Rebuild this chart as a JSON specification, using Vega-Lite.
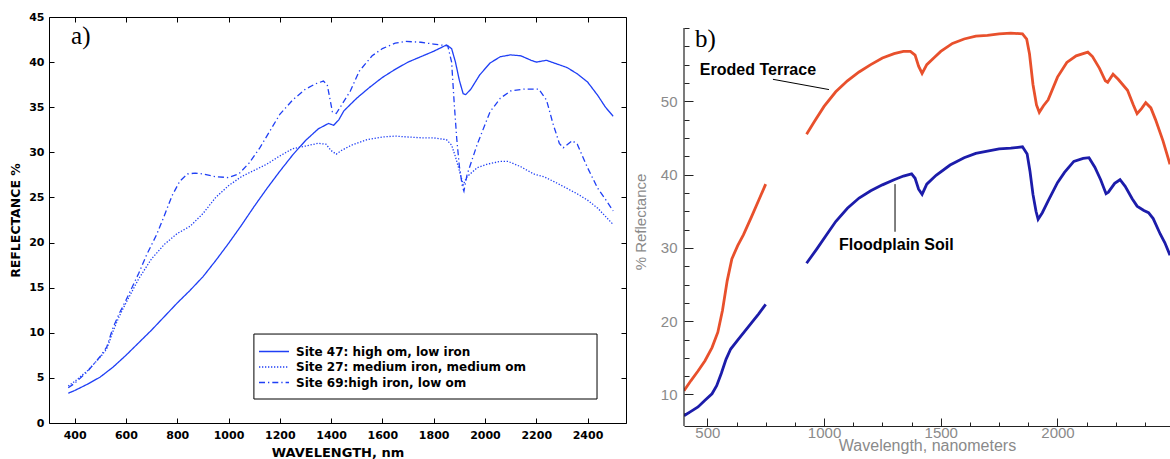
{
  "$schema": "https://vega.github.io/schema/vega-lite/v6.json",
  "autosize": {"type": "pad"},
  "padding": {"left": 9, "top": 11, "right": 0, "bottom": 0},
  "spacing": 58,
  "bounds": "flush",
  "background": "white",
  "config": {"view": {"stroke": null}, "axis": {"grid": false}},
  "datasets": {
    "a": [
      {"site":"Site 47: high om, low iron","nm":375,"r":3.3},{"site":"Site 47: high om, low iron","nm":400,"r":3.6},{"site":"Site 47: high om, low iron","nm":450,"r":4.3},{"site":"Site 47: high om, low iron","nm":500,"r":5.1},{"site":"Site 47: high om, low iron","nm":550,"r":6.2},{"site":"Site 47: high om, low iron","nm":600,"r":7.5},{"site":"Site 47: high om, low iron","nm":650,"r":8.9},{"site":"Site 47: high om, low iron","nm":700,"r":10.3},{"site":"Site 47: high om, low iron","nm":750,"r":11.8},{"site":"Site 47: high om, low iron","nm":800,"r":13.3},{"site":"Site 47: high om, low iron","nm":850,"r":14.7},{"site":"Site 47: high om, low iron","nm":900,"r":16.2},{"site":"Site 47: high om, low iron","nm":950,"r":18.0},{"site":"Site 47: high om, low iron","nm":1000,"r":19.9},{"site":"Site 47: high om, low iron","nm":1050,"r":21.9},{"site":"Site 47: high om, low iron","nm":1100,"r":24.0},{"site":"Site 47: high om, low iron","nm":1150,"r":26.0},{"site":"Site 47: high om, low iron","nm":1200,"r":27.9},{"site":"Site 47: high om, low iron","nm":1250,"r":29.7},{"site":"Site 47: high om, low iron","nm":1300,"r":31.3},{"site":"Site 47: high om, low iron","nm":1350,"r":32.6},{"site":"Site 47: high om, low iron","nm":1390,"r":33.2},{"site":"Site 47: high om, low iron","nm":1410,"r":33.0},{"site":"Site 47: high om, low iron","nm":1430,"r":33.6},{"site":"Site 47: high om, low iron","nm":1450,"r":34.6},{"site":"Site 47: high om, low iron","nm":1500,"r":36.0},{"site":"Site 47: high om, low iron","nm":1550,"r":37.2},{"site":"Site 47: high om, low iron","nm":1600,"r":38.3},{"site":"Site 47: high om, low iron","nm":1650,"r":39.2},{"site":"Site 47: high om, low iron","nm":1700,"r":40.0},{"site":"Site 47: high om, low iron","nm":1750,"r":40.6},{"site":"Site 47: high om, low iron","nm":1800,"r":41.2},{"site":"Site 47: high om, low iron","nm":1850,"r":41.9},{"site":"Site 47: high om, low iron","nm":1870,"r":41.5},{"site":"Site 47: high om, low iron","nm":1885,"r":40.0},{"site":"Site 47: high om, low iron","nm":1900,"r":38.0},{"site":"Site 47: high om, low iron","nm":1915,"r":36.5},{"site":"Site 47: high om, low iron","nm":1925,"r":36.4},{"site":"Site 47: high om, low iron","nm":1945,"r":37.0},{"site":"Site 47: high om, low iron","nm":1980,"r":38.6},{"site":"Site 47: high om, low iron","nm":2020,"r":39.9},{"site":"Site 47: high om, low iron","nm":2060,"r":40.6},{"site":"Site 47: high om, low iron","nm":2100,"r":40.8},{"site":"Site 47: high om, low iron","nm":2140,"r":40.7},{"site":"Site 47: high om, low iron","nm":2180,"r":40.2},{"site":"Site 47: high om, low iron","nm":2200,"r":40.0},{"site":"Site 47: high om, low iron","nm":2240,"r":40.2},{"site":"Site 47: high om, low iron","nm":2280,"r":39.8},{"site":"Site 47: high om, low iron","nm":2320,"r":39.4},{"site":"Site 47: high om, low iron","nm":2360,"r":38.7},{"site":"Site 47: high om, low iron","nm":2400,"r":37.8},{"site":"Site 47: high om, low iron","nm":2440,"r":36.3},{"site":"Site 47: high om, low iron","nm":2470,"r":35.0},{"site":"Site 47: high om, low iron","nm":2500,"r":34.0},
      {"site":"Site 27: medium iron, medium om","nm":375,"r":4.1},{"site":"Site 27: medium iron, medium om","nm":400,"r":4.6},{"site":"Site 27: medium iron, medium om","nm":450,"r":5.8},{"site":"Site 27: medium iron, medium om","nm":500,"r":7.3},{"site":"Site 27: medium iron, medium om","nm":525,"r":8.2},{"site":"Site 27: medium iron, medium om","nm":550,"r":10.2},{"site":"Site 27: medium iron, medium om","nm":575,"r":11.9},{"site":"Site 27: medium iron, medium om","nm":600,"r":13.3},{"site":"Site 27: medium iron, medium om","nm":650,"r":16.0},{"site":"Site 27: medium iron, medium om","nm":700,"r":18.2},{"site":"Site 27: medium iron, medium om","nm":750,"r":19.8},{"site":"Site 27: medium iron, medium om","nm":800,"r":21.0},{"site":"Site 27: medium iron, medium om","nm":850,"r":21.8},{"site":"Site 27: medium iron, medium om","nm":900,"r":23.2},{"site":"Site 27: medium iron, medium om","nm":950,"r":25.0},{"site":"Site 27: medium iron, medium om","nm":1000,"r":26.3},{"site":"Site 27: medium iron, medium om","nm":1050,"r":27.3},{"site":"Site 27: medium iron, medium om","nm":1100,"r":28.0},{"site":"Site 27: medium iron, medium om","nm":1150,"r":28.7},{"site":"Site 27: medium iron, medium om","nm":1200,"r":29.6},{"site":"Site 27: medium iron, medium om","nm":1250,"r":30.4},{"site":"Site 27: medium iron, medium om","nm":1300,"r":30.7},{"site":"Site 27: medium iron, medium om","nm":1350,"r":31.0},{"site":"Site 27: medium iron, medium om","nm":1380,"r":30.9},{"site":"Site 27: medium iron, medium om","nm":1400,"r":30.2},{"site":"Site 27: medium iron, medium om","nm":1420,"r":29.8},{"site":"Site 27: medium iron, medium om","nm":1440,"r":30.2},{"site":"Site 27: medium iron, medium om","nm":1480,"r":30.8},{"site":"Site 27: medium iron, medium om","nm":1540,"r":31.4},{"site":"Site 27: medium iron, medium om","nm":1600,"r":31.7},{"site":"Site 27: medium iron, medium om","nm":1650,"r":31.8},{"site":"Site 27: medium iron, medium om","nm":1700,"r":31.7},{"site":"Site 27: medium iron, medium om","nm":1760,"r":31.6},{"site":"Site 27: medium iron, medium om","nm":1800,"r":31.6},{"site":"Site 27: medium iron, medium om","nm":1850,"r":31.4},{"site":"Site 27: medium iron, medium om","nm":1870,"r":30.8},{"site":"Site 27: medium iron, medium om","nm":1885,"r":29.5},{"site":"Site 27: medium iron, medium om","nm":1900,"r":28.0},{"site":"Site 27: medium iron, medium om","nm":1915,"r":26.4},{"site":"Site 27: medium iron, medium om","nm":1930,"r":27.3},{"site":"Site 27: medium iron, medium om","nm":1970,"r":28.3},{"site":"Site 27: medium iron, medium om","nm":2010,"r":28.7},{"site":"Site 27: medium iron, medium om","nm":2060,"r":29.0},{"site":"Site 27: medium iron, medium om","nm":2090,"r":29.0},{"site":"Site 27: medium iron, medium om","nm":2140,"r":28.4},{"site":"Site 27: medium iron, medium om","nm":2190,"r":27.6},{"site":"Site 27: medium iron, medium om","nm":2230,"r":27.3},{"site":"Site 27: medium iron, medium om","nm":2280,"r":26.6},{"site":"Site 27: medium iron, medium om","nm":2320,"r":26.0},{"site":"Site 27: medium iron, medium om","nm":2360,"r":25.4},{"site":"Site 27: medium iron, medium om","nm":2400,"r":24.7},{"site":"Site 27: medium iron, medium om","nm":2440,"r":23.8},{"site":"Site 27: medium iron, medium om","nm":2480,"r":22.6},{"site":"Site 27: medium iron, medium om","nm":2500,"r":22.0},
      {"site":"Site 69:high iron, low om","nm":375,"r":3.9},{"site":"Site 69:high iron, low om","nm":400,"r":4.4},{"site":"Site 69:high iron, low om","nm":450,"r":5.7},{"site":"Site 69:high iron, low om","nm":500,"r":7.4},{"site":"Site 69:high iron, low om","nm":525,"r":8.4},{"site":"Site 69:high iron, low om","nm":550,"r":10.6},{"site":"Site 69:high iron, low om","nm":575,"r":12.2},{"site":"Site 69:high iron, low om","nm":600,"r":13.6},{"site":"Site 69:high iron, low om","nm":650,"r":16.6},{"site":"Site 69:high iron, low om","nm":680,"r":18.6},{"site":"Site 69:high iron, low om","nm":720,"r":20.9},{"site":"Site 69:high iron, low om","nm":750,"r":23.0},{"site":"Site 69:high iron, low om","nm":780,"r":25.2},{"site":"Site 69:high iron, low om","nm":810,"r":26.8},{"site":"Site 69:high iron, low om","nm":840,"r":27.6},{"site":"Site 69:high iron, low om","nm":870,"r":27.7},{"site":"Site 69:high iron, low om","nm":900,"r":27.6},{"site":"Site 69:high iron, low om","nm":950,"r":27.3},{"site":"Site 69:high iron, low om","nm":1000,"r":27.2},{"site":"Site 69:high iron, low om","nm":1040,"r":27.6},{"site":"Site 69:high iron, low om","nm":1080,"r":28.8},{"site":"Site 69:high iron, low om","nm":1120,"r":30.4},{"site":"Site 69:high iron, low om","nm":1160,"r":32.3},{"site":"Site 69:high iron, low om","nm":1200,"r":34.2},{"site":"Site 69:high iron, low om","nm":1250,"r":35.8},{"site":"Site 69:high iron, low om","nm":1300,"r":37.0},{"site":"Site 69:high iron, low om","nm":1340,"r":37.6},{"site":"Site 69:high iron, low om","nm":1370,"r":37.9},{"site":"Site 69:high iron, low om","nm":1385,"r":37.5},{"site":"Site 69:high iron, low om","nm":1395,"r":36.0},{"site":"Site 69:high iron, low om","nm":1405,"r":34.5},{"site":"Site 69:high iron, low om","nm":1420,"r":34.3},{"site":"Site 69:high iron, low om","nm":1440,"r":35.2},{"site":"Site 69:high iron, low om","nm":1475,"r":36.8},{"site":"Site 69:high iron, low om","nm":1510,"r":39.0},{"site":"Site 69:high iron, low om","nm":1560,"r":40.7},{"site":"Site 69:high iron, low om","nm":1600,"r":41.5},{"site":"Site 69:high iron, low om","nm":1650,"r":42.1},{"site":"Site 69:high iron, low om","nm":1690,"r":42.3},{"site":"Site 69:high iron, low om","nm":1750,"r":42.2},{"site":"Site 69:high iron, low om","nm":1800,"r":42.0},{"site":"Site 69:high iron, low om","nm":1855,"r":41.8},{"site":"Site 69:high iron, low om","nm":1870,"r":40.0},{"site":"Site 69:high iron, low om","nm":1880,"r":35.5},{"site":"Site 69:high iron, low om","nm":1890,"r":31.5},{"site":"Site 69:high iron, low om","nm":1900,"r":28.5},{"site":"Site 69:high iron, low om","nm":1912,"r":26.2},{"site":"Site 69:high iron, low om","nm":1918,"r":25.7},{"site":"Site 69:high iron, low om","nm":1930,"r":27.5},{"site":"Site 69:high iron, low om","nm":1970,"r":30.9},{"site":"Site 69:high iron, low om","nm":2020,"r":34.5},{"site":"Site 69:high iron, low om","nm":2060,"r":36.0},{"site":"Site 69:high iron, low om","nm":2100,"r":36.8},{"site":"Site 69:high iron, low om","nm":2150,"r":37.0},{"site":"Site 69:high iron, low om","nm":2210,"r":37.0},{"site":"Site 69:high iron, low om","nm":2240,"r":35.8},{"site":"Site 69:high iron, low om","nm":2265,"r":33.2},{"site":"Site 69:high iron, low om","nm":2290,"r":31.0},{"site":"Site 69:high iron, low om","nm":2305,"r":30.5},{"site":"Site 69:high iron, low om","nm":2340,"r":31.3},{"site":"Site 69:high iron, low om","nm":2360,"r":30.9},{"site":"Site 69:high iron, low om","nm":2400,"r":28.3},{"site":"Site 69:high iron, low om","nm":2440,"r":26.0},{"site":"Site 69:high iron, low om","nm":2470,"r":24.8},{"site":"Site 69:high iron, low om","nm":2500,"r":23.5}
    ],
    "b": [
      {"soil":"Eroded Terrace","part":1,"nm":400,"r":10.5},{"soil":"Eroded Terrace","part":1,"nm":430,"r":11.9},{"soil":"Eroded Terrace","part":1,"nm":460,"r":13.2},{"soil":"Eroded Terrace","part":1,"nm":490,"r":14.6},{"soil":"Eroded Terrace","part":1,"nm":520,"r":16.4},{"soil":"Eroded Terrace","part":1,"nm":545,"r":18.5},{"soil":"Eroded Terrace","part":1,"nm":565,"r":21.5},{"soil":"Eroded Terrace","part":1,"nm":585,"r":25.5},{"soil":"Eroded Terrace","part":1,"nm":605,"r":28.5},{"soil":"Eroded Terrace","part":1,"nm":630,"r":30.3},{"soil":"Eroded Terrace","part":1,"nm":655,"r":31.8},{"soil":"Eroded Terrace","part":1,"nm":690,"r":34.3},{"soil":"Eroded Terrace","part":1,"nm":720,"r":36.5},{"soil":"Eroded Terrace","part":1,"nm":750,"r":38.7},
      {"soil":"Eroded Terrace","part":2,"nm":925,"r":45.5},{"soil":"Eroded Terrace","part":2,"nm":960,"r":47.3},{"soil":"Eroded Terrace","part":2,"nm":1000,"r":49.3},{"soil":"Eroded Terrace","part":2,"nm":1050,"r":51.3},{"soil":"Eroded Terrace","part":2,"nm":1100,"r":52.8},{"soil":"Eroded Terrace","part":2,"nm":1150,"r":54.0},{"soil":"Eroded Terrace","part":2,"nm":1200,"r":55.0},{"soil":"Eroded Terrace","part":2,"nm":1250,"r":55.9},{"soil":"Eroded Terrace","part":2,"nm":1300,"r":56.5},{"soil":"Eroded Terrace","part":2,"nm":1340,"r":56.8},{"soil":"Eroded Terrace","part":2,"nm":1370,"r":56.8},{"soil":"Eroded Terrace","part":2,"nm":1390,"r":56.3},{"soil":"Eroded Terrace","part":2,"nm":1405,"r":54.8},{"soil":"Eroded Terrace","part":2,"nm":1420,"r":53.8},{"soil":"Eroded Terrace","part":2,"nm":1440,"r":55.0},{"soil":"Eroded Terrace","part":2,"nm":1470,"r":55.9},{"soil":"Eroded Terrace","part":2,"nm":1500,"r":56.8},{"soil":"Eroded Terrace","part":2,"nm":1550,"r":57.9},{"soil":"Eroded Terrace","part":2,"nm":1600,"r":58.5},{"soil":"Eroded Terrace","part":2,"nm":1650,"r":58.9},{"soil":"Eroded Terrace","part":2,"nm":1700,"r":59.0},{"soil":"Eroded Terrace","part":2,"nm":1750,"r":59.2},{"soil":"Eroded Terrace","part":2,"nm":1800,"r":59.3},{"soil":"Eroded Terrace","part":2,"nm":1850,"r":59.2},{"soil":"Eroded Terrace","part":2,"nm":1868,"r":58.5},{"soil":"Eroded Terrace","part":2,"nm":1880,"r":56.5},{"soil":"Eroded Terrace","part":2,"nm":1895,"r":52.3},{"soil":"Eroded Terrace","part":2,"nm":1910,"r":49.5},{"soil":"Eroded Terrace","part":2,"nm":1922,"r":48.5},{"soil":"Eroded Terrace","part":2,"nm":1940,"r":49.4},{"soil":"Eroded Terrace","part":2,"nm":1960,"r":50.2},{"soil":"Eroded Terrace","part":2,"nm":2000,"r":53.3},{"soil":"Eroded Terrace","part":2,"nm":2040,"r":55.3},{"soil":"Eroded Terrace","part":2,"nm":2080,"r":56.2},{"soil":"Eroded Terrace","part":2,"nm":2130,"r":56.7},{"soil":"Eroded Terrace","part":2,"nm":2150,"r":56.1},{"soil":"Eroded Terrace","part":2,"nm":2180,"r":54.5},{"soil":"Eroded Terrace","part":2,"nm":2205,"r":52.8},{"soil":"Eroded Terrace","part":2,"nm":2215,"r":52.6},{"soil":"Eroded Terrace","part":2,"nm":2238,"r":53.7},{"soil":"Eroded Terrace","part":2,"nm":2260,"r":53.0},{"soil":"Eroded Terrace","part":2,"nm":2300,"r":51.5},{"soil":"Eroded Terrace","part":2,"nm":2325,"r":49.5},{"soil":"Eroded Terrace","part":2,"nm":2341,"r":48.3},{"soil":"Eroded Terrace","part":2,"nm":2360,"r":49.0},{"soil":"Eroded Terrace","part":2,"nm":2378,"r":49.8},{"soil":"Eroded Terrace","part":2,"nm":2400,"r":49.1},{"soil":"Eroded Terrace","part":2,"nm":2420,"r":47.5},{"soil":"Eroded Terrace","part":2,"nm":2452,"r":44.6},{"soil":"Eroded Terrace","part":2,"nm":2482,"r":41.4},
      {"soil":"Floodplain Soil","part":1,"nm":400,"r":7.1},{"soil":"Floodplain Soil","part":1,"nm":430,"r":7.7},{"soil":"Floodplain Soil","part":1,"nm":460,"r":8.3},{"soil":"Floodplain Soil","part":1,"nm":490,"r":9.2},{"soil":"Floodplain Soil","part":1,"nm":520,"r":10.1},{"soil":"Floodplain Soil","part":1,"nm":540,"r":11.2},{"soil":"Floodplain Soil","part":1,"nm":560,"r":12.9},{"soil":"Floodplain Soil","part":1,"nm":580,"r":14.8},{"soil":"Floodplain Soil","part":1,"nm":600,"r":16.2},{"soil":"Floodplain Soil","part":1,"nm":630,"r":17.4},{"soil":"Floodplain Soil","part":1,"nm":660,"r":18.6},{"soil":"Floodplain Soil","part":1,"nm":690,"r":19.8},{"soil":"Floodplain Soil","part":1,"nm":720,"r":21.0},{"soil":"Floodplain Soil","part":1,"nm":750,"r":22.3},
      {"soil":"Floodplain Soil","part":2,"nm":925,"r":27.9},{"soil":"Floodplain Soil","part":2,"nm":970,"r":29.9},{"soil":"Floodplain Soil","part":2,"nm":1013,"r":31.9},{"soil":"Floodplain Soil","part":2,"nm":1050,"r":33.6},{"soil":"Floodplain Soil","part":2,"nm":1100,"r":35.4},{"soil":"Floodplain Soil","part":2,"nm":1150,"r":36.8},{"soil":"Floodplain Soil","part":2,"nm":1200,"r":37.8},{"soil":"Floodplain Soil","part":2,"nm":1250,"r":38.6},{"soil":"Floodplain Soil","part":2,"nm":1300,"r":39.3},{"soil":"Floodplain Soil","part":2,"nm":1340,"r":39.8},{"soil":"Floodplain Soil","part":2,"nm":1375,"r":40.1},{"soil":"Floodplain Soil","part":2,"nm":1390,"r":39.5},{"soil":"Floodplain Soil","part":2,"nm":1405,"r":38.0},{"soil":"Floodplain Soil","part":2,"nm":1420,"r":37.3},{"soil":"Floodplain Soil","part":2,"nm":1440,"r":38.7},{"soil":"Floodplain Soil","part":2,"nm":1480,"r":39.9},{"soil":"Floodplain Soil","part":2,"nm":1540,"r":41.3},{"soil":"Floodplain Soil","part":2,"nm":1600,"r":42.3},{"soil":"Floodplain Soil","part":2,"nm":1650,"r":42.9},{"soil":"Floodplain Soil","part":2,"nm":1700,"r":43.2},{"soil":"Floodplain Soil","part":2,"nm":1750,"r":43.5},{"soil":"Floodplain Soil","part":2,"nm":1800,"r":43.6},{"soil":"Floodplain Soil","part":2,"nm":1850,"r":43.8},{"soil":"Floodplain Soil","part":2,"nm":1870,"r":42.8},{"soil":"Floodplain Soil","part":2,"nm":1882,"r":40.5},{"soil":"Floodplain Soil","part":2,"nm":1895,"r":37.3},{"soil":"Floodplain Soil","part":2,"nm":1908,"r":35.0},{"soil":"Floodplain Soil","part":2,"nm":1917,"r":33.9},{"soil":"Floodplain Soil","part":2,"nm":1935,"r":34.8},{"soil":"Floodplain Soil","part":2,"nm":1960,"r":36.4},{"soil":"Floodplain Soil","part":2,"nm":2000,"r":38.9},{"soil":"Floodplain Soil","part":2,"nm":2030,"r":40.3},{"soil":"Floodplain Soil","part":2,"nm":2070,"r":41.8},{"soil":"Floodplain Soil","part":2,"nm":2110,"r":42.2},{"soil":"Floodplain Soil","part":2,"nm":2135,"r":42.3},{"soil":"Floodplain Soil","part":2,"nm":2160,"r":41.0},{"soil":"Floodplain Soil","part":2,"nm":2185,"r":39.3},{"soil":"Floodplain Soil","part":2,"nm":2208,"r":37.4},{"soil":"Floodplain Soil","part":2,"nm":2218,"r":37.6},{"soil":"Floodplain Soil","part":2,"nm":2245,"r":38.8},{"soil":"Floodplain Soil","part":2,"nm":2268,"r":39.3},{"soil":"Floodplain Soil","part":2,"nm":2290,"r":38.4},{"soil":"Floodplain Soil","part":2,"nm":2320,"r":36.7},{"soil":"Floodplain Soil","part":2,"nm":2341,"r":35.7},{"soil":"Floodplain Soil","part":2,"nm":2370,"r":35.1},{"soil":"Floodplain Soil","part":2,"nm":2390,"r":34.8},{"soil":"Floodplain Soil","part":2,"nm":2410,"r":34.0},{"soil":"Floodplain Soil","part":2,"nm":2440,"r":31.9},{"soil":"Floodplain Soil","part":2,"nm":2460,"r":30.7},{"soil":"Floodplain Soil","part":2,"nm":2482,"r":29.0}
    ]
  },
  "hconcat": [
    {
      "width": 577,
      "height": 406,
      "layer": [
        {
          "data": {"values": [{}]},
          "mark": {"type": "rect", "filled": false, "stroke": "black", "strokeWidth": 1},
          "encoding": {
            "x": {"datum": 1099, "type": "quantitative", "axis": null},
            "x2": {"datum": 2437},
            "y": {"datum": 9.86, "type": "quantitative", "axis": null},
            "y2": {"datum": 2.66}
          }
        },
        {
          "data": {"name": "a"},
          "mark": {"type": "line", "strokeWidth": 1.3, "color": "#1f3ff5"},
          "encoding": {
            "x": {"field": "nm", "type": "quantitative", "scale": {"domain": [300, 2550], "nice": false, "zero": false},
              "axis": {"orient": "bottom", "values": [400,600,800,1000,1200,1400,1600,1800,2000,2200,2400], "format": "d", "title": "WAVELENGTH, nm", "tickSize": -5, "labelPadding": 11, "domainColor": "black", "tickColor": "black", "labelColor": "black", "labelFont": "DejaVu Sans", "labelFontSize": 11, "labelFontWeight": "bold", "labelOverlap": false, "labelFlush": false, "titleFont": "DejaVu Sans", "titleFontSize": 13, "titleFontWeight": "bold", "titleColor": "black", "titlePadding": 6}},
            "y": {"field": "r", "type": "quantitative", "scale": {"domain": [0, 45], "nice": false, "zero": false},
              "axis": {"orient": "left", "values": [0,5,10,15,20,25,30,35,40,45], "title": "REFLECTANCE %", "tickSize": -5, "labelPadding": 10, "domainColor": "black", "tickColor": "black", "labelColor": "black", "labelFont": "DejaVu Sans", "labelFontSize": 11, "labelFontWeight": "bold", "labelOverlap": false, "labelFlush": false, "titleFont": "DejaVu Sans", "titleFontSize": 12.5, "titleFontWeight": "bold", "titleColor": "black", "titlePadding": 6}},
            "strokeDash": {"field": "site", "type": "nominal",
              "scale": {"domain": ["Site 47: high om, low iron", "Site 27: medium iron, medium om", "Site 69:high iron, low om"], "range": [[1, 0], [1.3, 1.7], [6, 3, 1.3, 3]]},
              "legend": {"title": null, "orient": "none", "legendX": 209, "legendY": 327, "symbolType": "stroke", "symbolSize": 900, "symbolStrokeWidth": 1.3, "symbolStrokeColor": "#1f3ff5", "clipHeight": 15, "rowPadding": 0.5, "padding": 0, "labelFont": "DejaVu Sans", "labelFontSize": 12, "labelFontWeight": "bold", "labelColor": "black", "labelOffset": 6, "labelLimit": 0}}
          }
        },
        {
          "data": {"name": "a"},
          "mark": {"type": "line", "opacity": 0},
          "encoding": {
            "x": {"field": "nm", "type": "quantitative", "axis": {"orient": "top", "values": [400,600,800,1000,1200,1400,1600,1800,2000,2200,2400], "labels": false, "title": null, "tickSize": -5, "domainColor": "black", "tickColor": "black"}},
            "y": {"field": "r", "type": "quantitative", "axis": {"orient": "right", "values": [0,5,10,15,20,25,30,35,40,45], "labels": false, "title": null, "tickSize": -5, "domainColor": "black", "tickColor": "black"}},
            "detail": {"field": "site"}
          }
        },
        {
          "data": {"values": [{}]},
          "mark": {"type": "text", "text": "a)", "font": "Liberation Serif", "fontSize": 25, "align": "left", "baseline": "alphabetic", "color": "black"},
          "encoding": {
            "x": {"datum": 386, "type": "quantitative", "axis": null},
            "y": {"datum": 42.0, "type": "quantitative", "axis": null}
          }
        }
      ],
      "resolve": {"axis": {"x": "independent", "y": "independent"}}
    },
    {
      "width": 486,
      "height": 409,
      "layer": [
        {
          "data": {"name": "b"},
          "mark": {"type": "line", "strokeWidth": 2.8, "clip": true},
          "encoding": {
            "x": {"field": "nm", "type": "quantitative", "scale": {"domain": [400, 2482], "nice": false, "zero": false},
              "axis": {"orient": "bottom", "values": [500, 1000, 1500, 2000], "format": "d", "tickSize": -8, "labelPadding": 7, "domainColor": "#222222", "tickColor": "#222222", "labelColor": "#8a8a8a", "labelFont": "Liberation Sans", "labelFontSize": 15, "labelOverlap": false, "labelFlush": false, "title": "Wavelength, nanometers", "titleFont": "Liberation Sans", "titleFontSize": 16, "titleFontWeight": "normal", "titleColor": "#8a8a8a", "titlePadding": -3}},
            "y": {"field": "r", "type": "quantitative", "scale": {"domain": [5.7, 61.5], "nice": false, "zero": false},
              "axis": {"orient": "left", "values": [10, 20, 30, 40, 50], "format": "d", "tickSize": -9, "labelPadding": 16, "domain": false, "tickColor": "#222222", "labelColor": "#8a8a8a", "labelFont": "Liberation Sans", "labelFontSize": 15, "labelOverlap": false, "labelFlush": false, "title": "% Reflectance", "titleFont": "Liberation Sans", "titleFontSize": 15, "titleFontWeight": "normal", "titleColor": "#8a8a8a", "titlePadding": 12}},
            "color": {"field": "soil", "type": "nominal", "scale": {"domain": ["Eroded Terrace", "Floodplain Soil"], "range": ["#e8502c", "#1c1caa"]}, "legend": null},
            "detail": {"field": "part"}
          }
        },
        {
          "data": {"name": "b"},
          "mark": {"type": "line", "opacity": 0},
          "encoding": {
            "x": {"field": "nm", "type": "quantitative", "axis": {"orient": "bottom", "values": [625,750,875,1125,1250,1375,1625,1750,1875,2125,2250,2375], "labels": false, "domain": false, "title": null, "tickSize": -4, "tickColor": "#222222"}},
            "y": {"field": "r", "type": "quantitative", "axis": {"orient": "left", "values": [7.5,12.5,15,17.5,22.5,25,27.5,32.5,35,37.5,42.5,45,47.5,52.5,55,57.5,60], "labels": false, "domain": false, "title": null, "tickSize": -5, "tickColor": "#222222"}},
            "detail": {"field": "part"}
          }
        },
        {
          "data": {"values": [{}]},
          "mark": {"type": "rule", "color": "#222222", "strokeWidth": 1.2},
          "encoding": {"x": {"datum": 400, "type": "quantitative", "axis": null}, "y": {"datum": 5.7, "type": "quantitative", "axis": null}, "y2": {"datum": 60}}
        },
        {
          "data": {"values": [{}]},
          "mark": {"type": "rule", "color": "black", "strokeWidth": 1},
          "encoding": {"x": {"datum": 781, "type": "quantitative", "axis": null}, "x2": {"datum": 1021}, "y": {"datum": 53.0, "type": "quantitative", "axis": null}, "y2": {"datum": 51.6}}
        },
        {
          "data": {"values": [{}]},
          "mark": {"type": "rule", "color": "black", "strokeWidth": 1},
          "encoding": {"x": {"datum": 1304, "type": "quantitative", "axis": null}, "y": {"datum": 38.7, "type": "quantitative", "axis": null}, "y2": {"datum": 32.2}}
        },
        {
          "data": {"values": [{}]},
          "mark": {"type": "text", "text": "Eroded Terrace", "font": "Liberation Sans", "fontSize": 16, "fontWeight": "bold", "align": "left", "baseline": "alphabetic", "color": "black"},
          "encoding": {"x": {"datum": 468, "type": "quantitative", "axis": null}, "y": {"datum": 53.56, "type": "quantitative", "axis": null}}
        },
        {
          "data": {"values": [{}]},
          "mark": {"type": "text", "text": "Floodplain Soil", "font": "Liberation Sans", "fontSize": 16, "fontWeight": "bold", "align": "left", "baseline": "alphabetic", "color": "black"},
          "encoding": {"x": {"datum": 1064, "type": "quantitative", "axis": null}, "y": {"datum": 29.7, "type": "quantitative", "axis": null}}
        },
        {
          "data": {"values": [{}]},
          "mark": {"type": "text", "text": "b)", "font": "Liberation Serif", "fontSize": 25, "align": "left", "baseline": "alphabetic", "color": "black"},
          "encoding": {"x": {"datum": 447, "type": "quantitative", "axis": null}, "y": {"datum": 57.4, "type": "quantitative", "axis": null}}
        }
      ],
      "resolve": {"axis": {"x": "independent", "y": "independent"}}
    }
  ]
}
